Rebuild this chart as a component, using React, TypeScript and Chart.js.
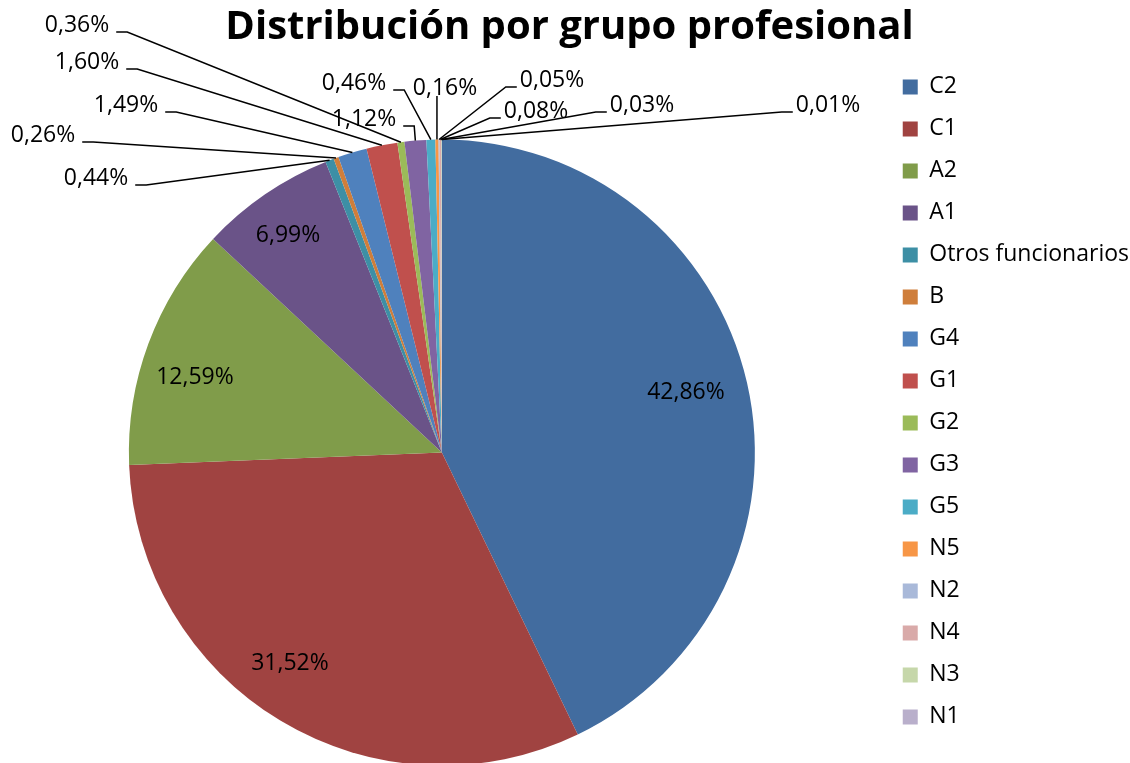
import React, { useEffect, useRef } from "react";
import { Chart, registerables } from "chart.js";

Chart.register(...registerables);

const TITLE = "Distribución por grupo profesional";

const categories = [
  "C2", "C1", "A2", "A1", "Otros funcionarios", "B", "G4", "G1",
  "G2", "G3", "G5", "N5", "N2", "N4", "N3", "N1",
];

const shares = [
  42.86, 31.52, 12.59, 6.99, 0.44, 0.26, 1.49, 1.6,
  0.36, 1.12, 0.46, 0.16, 0.05, 0.08, 0.03, 0.01,
];

const sliceColors = [
  "#426C9F", "#A04341", "#809C4A", "#6A5388", "#3D8FA5", "#CF7E3B",
  "#4F81BD", "#C0504D", "#9BBB59", "#8064A2", "#4BACC6", "#F79646",
  "#A9B9D9", "#D9AAA9", "#C6D7AA", "#B9AFCB",
];

// label text centre (x, y) and how the leader line leaves the label
// 'in' = inside the slice (no leader), 'L' = label left of its slice,
// 'R' = label right of its slice, 'B' = line drops from under the label
const labelSpots: [number, number, string][] = [
  [686, 392, "in"],
  [290, 663, "in"],
  [195, 377, "in"],
  [288, 235, "in"],
  [96, 178, "L"],
  [43, 135, "L"],
  [126, 105, "L"],
  [87, 62, "L"],
  [77, 25, "L"],
  [364, 119, "L"],
  [354, 83, "L"],
  [445, 88, "B"],
  [552, 80, "R"],
  [536, 111, "R"],
  [642, 105, "R"],
  [828, 105, "R"],
];

const FONT = '"Open Sans", "DejaVu Sans", sans-serif';

const fmt = (v: number) => v.toFixed(2).replace(".", ",") + "%";

const labelPlugin = {
  id: "sliceLabels",
  afterDatasetsDraw(chart: any) {
    const ctx = chart.ctx as CanvasRenderingContext2D;
    const meta = chart.getDatasetMeta(0);
    ctx.save();
    ctx.font = `23px ${FONT}`;
    ctx.fillStyle = "#000";
    ctx.strokeStyle = "#000";
    ctx.lineWidth = 1.5;
    ctx.textAlign = "center";
    ctx.textBaseline = "middle";
    meta.data.forEach((arc: any, i: number) => {
      const { x, y, startAngle, endAngle, outerRadius } = arc.getProps(
        ["x", "y", "startAngle", "endAngle", "outerRadius"],
        true
      );
      const mid = (startAngle + endAngle) / 2;
      const text = fmt(shares[i]);
      const [tx, ty, side] = labelSpots[i];
      ctx.fillText(text, tx, ty);
      if (side === "in") return;
      const w = ctx.measureText(text).width;
      const ex = x + Math.cos(mid) * outerRadius;
      const ey = y + Math.sin(mid) * outerRadius;
      ctx.beginPath();
      if (side === "L") {
        const sx = tx + w / 2 + 7;
        ctx.moveTo(sx, ty + 7);
        ctx.lineTo(sx + 11, ty + 7);
        ctx.lineTo(ex, ey);
      } else if (side === "R") {
        const sx = tx - w / 2 - 3;
        ctx.moveTo(sx, ty + 7);
        ctx.lineTo(sx - 11, ty + 7);
        ctx.lineTo(ex, ey);
      } else {
        ctx.moveTo(ex, ty + 8);
        ctx.lineTo(ex, ey);
      }
      ctx.stroke();
    });
    ctx.restore();
  },
};

export default function App() {
  const canvasRef = useRef<HTMLCanvasElement | null>(null);

  useEffect(() => {
    if (!canvasRef.current) return;
    const chart = new Chart(canvasRef.current, {
      type: "pie",
      data: {
        labels: categories,
        datasets: [
          {
            data: shares,
            backgroundColor: sliceColors,
            borderWidth: 0,
            radius: 313,
            clip: false,
          } as any,
        ],
      },
      options: {
        animation: false,
        responsive: true,
        maintainAspectRatio: false,
        events: [],
        layout: {
          padding: { top: 0, left: 0, right: 0, bottom: 11 },
        },
        plugins: {
          tooltip: { enabled: false },
          title: {
            display: true,
            text: TITLE,
            color: "#000",
            font: { family: FONT, size: 40, weight: "bold", lineHeight: 1.2 },
            padding: { top: 4, bottom: 8 },
          },
          legend: {
            position: "right",
            align: "start",
            title: {
              display: true,
              text: "",
              font: { size: 12, lineHeight: 1.2 },
              padding: { top: 42, bottom: 0 },
            },
            labels: {
              boxWidth: 15,
              boxHeight: 15,
              padding: 19,
              color: "#000",
              font: { family: FONT, size: 23 },
            },
          },
        },
      },
      plugins: [labelPlugin],
    });
    return () => chart.destroy();
  }, []);

  return (
    <div
      style={{
        position: "absolute",
        left: 0,
        top: 0,
        width: 1130,
        height: 763,
        overflow: "hidden",
        background: "#fff",
      }}
    >
      <div style={{ position: "relative", width: 1139, height: 856 }}>
        <canvas ref={canvasRef} />
      </div>
    </div>
  );
}
